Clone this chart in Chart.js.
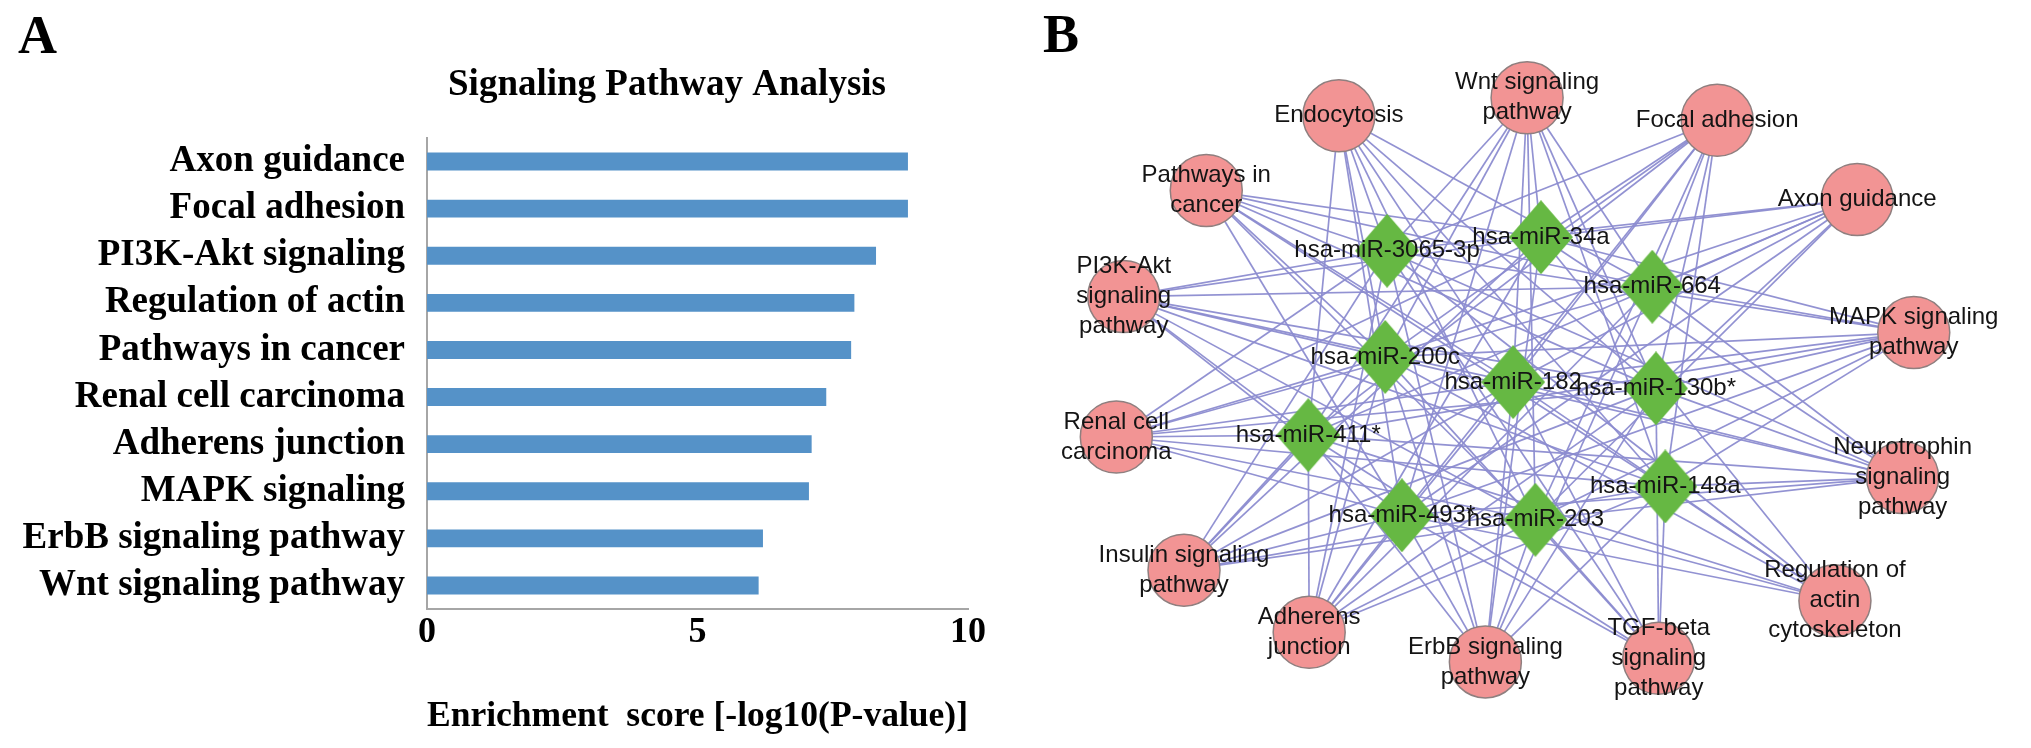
<!DOCTYPE html>
<html><head><meta charset="utf-8">
<script src="https://cdn.jsdelivr.net/npm/chart.js@4.4.1/dist/chart.umd.min.js"></script>
<style>
html,body{margin:0;padding:0;background:#fff;}
#wrap{position:relative;width:2031px;height:748px;overflow:hidden;background:#fff;}
canvas{position:absolute;top:0;}
#cA{left:0;}
#cB{left:1000px;}
.panel{position:absolute;font:bold 54px "Liberation Serif","Times New Roman",serif;line-height:54px;color:#000;}
</style></head><body>
<div id="wrap">
<canvas id="cA" width="1000" height="748"></canvas>
<canvas id="cB" width="1031" height="748"></canvas>
<div class="panel" style="left:18px;top:8px">A</div>
<div class="panel" style="left:1043px;top:7px">B</div>
</div>
<script>
// ---------- Panel A data ----------
const chartTitle = 'Signaling Pathway Analysis';
const xAxisTitle = 'Enrichment  score [-log10(P-value)]';
const pathwayLabels = ['Axon guidance','Focal adhesion','PI3K-Akt signaling','Regulation of actin','Pathways in cancer','Renal cell carcinoma','Adherens junction','MAPK signaling','ErbB signaling pathway','Wnt signaling pathway'];
const enrichmentScores = [8.89, 8.89, 8.30, 7.90, 7.84, 7.38, 7.11, 7.06, 6.21, 6.13];
const xTickValues = [0, 5, 10];

// ---------- Panel B data (network layout coordinates) ----------
const pathwayNodes = ['Endocytosis','Wnt signaling\npathway','Focal adhesion','Pathways in\ncancer','Axon guidance','PI3K-Akt\nsignaling\npathway','MAPK signaling\npathway','Renal cell\ncarcinoma','Neurotrophin\nsignaling\npathway','Insulin signaling\npathway','Regulation of\nactin\ncytoskeleton','Adherens\njunction','ErbB signaling\npathway','TGF-beta\nsignaling\npathway'];
const pathwayX = [325, 528, 733, 182, 884, 93, 945, 85, 933, 158, 860, 293, 483, 670];
const pathwayY = [87, 67, 92, 170, 180, 288, 328, 444, 489, 592, 626, 661, 694, 690];
const mirnaKeys = ['3065-3p','34a','664','200c','182','130b*','411*','148a','493*','203'];
const mirnaX = [377, 543, 663, 375, 513, 667, 292, 677, 393, 537];
const mirnaY = [237, 222, 277, 355, 383, 390, 442, 499, 531, 536];
// edges: pathway index -> list of connected miRNAs
const edgeList = [
  ['3065-3p','200c','411*','493*','182','203','664','130b*','148a'],
  ['34a','3065-3p','200c','182','203','493*','411*','664','130b*','148a'],
  ['34a','3065-3p','200c','182','203','411*','493*','130b*','148a','664'],
  ['3065-3p','34a','664','200c','182','130b*','203','148a','493*'],
  ['3065-3p','34a','664','200c','182','130b*','411*','493*','203'],
  ['3065-3p','34a','664','200c','182','130b*','411*','148a','493*','203'],
  ['3065-3p','34a','664','200c','182','130b*','411*','148a','493*','203'],
  ['3065-3p','34a','664','200c','182','130b*','411*','148a','493*','203'],
  ['3065-3p','34a','664','200c','182','130b*','411*','148a','493*','203'],
  ['3065-3p','34a','200c','182','130b*','411*','148a','493*','203'],
  ['34a','200c','182','411*','148a','493*','203','3065-3p'],
  ['411*','200c','3065-3p','182','34a','130b*','148a','493*','203','664'],
  ['200c','3065-3p','182','34a','664','130b*','148a','493*','203','411*'],
  ['148a','130b*','182','203','493*','200c','411*','3065-3p']
];

const serif = '"Liberation Serif","Times New Roman",serif';
const sans = '"Liberation Sans",Arial,Helvetica,sans-serif';

// ---------- Panel A ----------
const titlePlugin = {
  id: 'panelTitle',
  afterDraw(chart) {
    const ctx = chart.ctx;
    ctx.save();
    ctx.font = 'bold 37px ' + serif;
    ctx.fillStyle = '#000';
    ctx.textAlign = 'center';
    ctx.textBaseline = 'alphabetic';
    ctx.fillText(chartTitle, chart.chartArea.left + 240, 95);
    ctx.restore();
  }
};

new Chart(document.getElementById('cA'), {
  type: 'bar',
  data: {
    labels: pathwayLabels,
    datasets: [{
      data: enrichmentScores,
      backgroundColor: '#5592c8',
      borderWidth: 0,
      barPercentage: 0.38,
      categoryPercentage: 1
    }]
  },
  options: {
    indexAxis: 'y',
    responsive: false,
    animation: false,
    devicePixelRatio: 1,
    layout: { padding: { top: 138, left: 20, right: 32, bottom: 0 } },
    plugins: { legend: { display: false }, tooltip: { enabled: false }, title: { display: false } },
    scales: {
      x: {
        min: xTickValues[0], max: xTickValues[xTickValues.length - 1],
        afterBuildTicks(s) { s.ticks = xTickValues.map(v => ({ value: v })); },
        ticks: { color: '#000', font: { family: serif, size: 36, weight: 'bold' }, padding: 2, maxRotation: 0, autoSkip: false },
        grid: { display: false, drawTicks: false },
        border: { display: true, color: '#a6a6a6', width: 2 },
        title: { display: true, text: xAxisTitle, color: '#000', font: { family: serif, size: 36, weight: 'bold' }, padding: { top: 0, bottom: 10 } },
        afterFit(s) { s.height = 139; }
      },
      y: {
        ticks: { color: '#000', font: { family: serif, size: 37, weight: 'bold' }, padding: 22, autoSkip: false },
        grid: { display: false, drawTicks: false },
        border: { display: true, color: '#a6a6a6', width: 2 },
        afterFit(s) { s.width = 407; }
      }
    }
  },
  plugins: [titlePlugin]
});

// ---------- Panel B ----------
const diamond = document.createElement('canvas');
diamond.width = 64; diamond.height = 74;
(function () {
  const d = diamond.getContext('2d');
  d.fillStyle = '#66b843';
  d.beginPath();
  d.moveTo(32, 0); d.lineTo(64, 37); d.lineTo(32, 74); d.lineTo(0, 37);
  d.closePath(); d.fill();
})();

const edgeDatasets = [];
edgeList.forEach((mirs, p) => {
  mirs.forEach(m => {
    const k = mirnaKeys.indexOf(m);
    edgeDatasets.push({
      data: [{ x: pathwayX[p], y: pathwayY[p] }, { x: mirnaX[k], y: mirnaY[k] }],
      showLine: true,
      borderColor: 'rgba(140,140,208,0.95)',
      borderWidth: 1.7,
      pointRadius: 0,
      order: 3
    });
  });
});

const labelPlugin = {
  id: 'nodeLabels',
  afterDatasetsDraw(chart) {
    const ctx = chart.ctx, sx = chart.scales.x, sy = chart.scales.y;
    ctx.save();
    ctx.font = '24px ' + sans;
    ctx.fillStyle = '#141414';
    ctx.textAlign = 'center';
    ctx.textBaseline = 'middle';
    const lh = 30;
    const draw = (txt, x, y) => {
      const lines = txt.split('\n');
      const px = sx.getPixelForValue(x), py = sy.getPixelForValue(y);
      lines.forEach((l, i) => ctx.fillText(l, px, py + (i - (lines.length - 1) / 2) * lh));
    };
    pathwayNodes.forEach((t, i) => draw(t, pathwayX[i], pathwayY[i]));
    mirnaKeys.forEach((t, i) => draw('hsa-miR-' + t, mirnaX[i], mirnaY[i]));
    ctx.restore();
  }
};

new Chart(document.getElementById('cB'), {
  type: 'scatter',
  data: {
    datasets: [
      {
        label: 'miRNA',
        data: mirnaX.map((x, i) => ({ x, y: mirnaY[i] })),
        pointStyle: diamond, pointRadius: 36, order: 0
      },
      {
        label: 'pathway',
        data: pathwayX.map((x, i) => ({ x, y: pathwayY[i] })),
        pointStyle: 'circle', pointRadius: 36,
        backgroundColor: '#f29494', borderColor: '#8f7f7f', borderWidth: 1.5, order: 1
      }
    ].concat(edgeDatasets)
  },
  options: {
    responsive: false,
    animation: false,
    devicePixelRatio: 1,
    layout: { padding: 0 },
    plugins: { legend: { display: false }, tooltip: { enabled: false } },
    scales: {
      x: { type: 'linear', min: 0, max: 1031, display: false },
      y: { type: 'linear', min: 0, max: 748, reverse: true, display: false }
    }
  },
  plugins: [labelPlugin]
});
</script>
</body></html>
